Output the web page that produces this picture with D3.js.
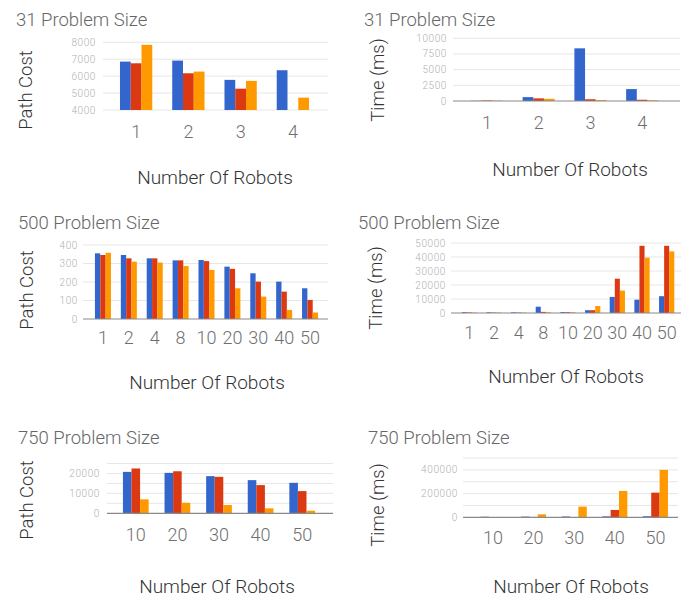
<!DOCTYPE html>
<html>
<head>
<meta charset="utf-8">
<script src="https://cdn.jsdelivr.net/npm/d3@7"></script>
<style>
  body { margin: 0; background: #fff; }
  text { font-family: Roboto, "Noto Sans", sans-serif; }
</style>
</head>
<body>
<div id="chart"></div>
<script>
// Number of robots on each x axis
const robots31 = ["1", "2", "3", "4"];
const robots500 = ["1", "2", "4", "8", "10", "20", "30", "40", "50"];
const robots750 = ["10", "20", "30", "40", "50"];

// Three series per chart (blue, red, orange)
const cost31 = [
  [6860, 6920, 5780, 6350],
  [6760, 6170, 5260, null],
  [7850, 6270, 5720, 4730]
];
const time31 = [
  [40, 620, 8400, 1900],
  [90, 420, 280, 200],
  [60, 350, 150, 120]
];
const cost500 = [
  [355, 346, 328, 317, 319, 283, 247, 202, 166],
  [346, 328, 328, 317, 313, 271, 202, 148, 103],
  [358, 310, 305, 286, 265, 166, 121, 49, 35]
];
const time500 = [
  [600, 500, 500, 4500, 700, 2000, 11500, 9500, 12000],
  [400, 300, 300, 800, 600, 2000, 24500, 48000, 48000],
  [300, 300, 300, 500, 500, 5000, 16000, 39500, 44000]
];
const cost750 = [
  [20800, 20300, 18650, 16650, 15300],
  [22500, 21100, 18300, 14150, 11150],
  [7000, 5300, 4150, 2500, 1300]
];
const time750 = [
  [5000, 6000, 7000, 8000, 9000],
  [2000, 3000, 2500, 62000, 208000],
  [3000, 25000, 90000, 222000, 400000]
];

// Y tick labels
const ticksCost31 = [4000, 5000, 6000, 7000, 8000];
const ticksTime31 = [0, 2500, 5000, 7500, 10000];
const ticksCost500 = [0, 100, 200, 300, 400];
const ticksTime500 = [0, 10000, 20000, 30000, 40000, 50000];
const ticksCost750 = [0, 10000, 20000];
const ticksTime750 = [0, 200000, 400000];

const colors = ["#3366cc", "#dc3912", "#ff9900"];

const svg = d3.select("#chart")
    .append("svg")
    .attr("width", 696)
    .attr("height", 599);

// layout of each small chart
const panels = [
  {title: "31 Problem Size", yTitle: "Path Cost", cats: robots31, data: cost31,
   domain: [4000, 8000], labels: ticksCost31, grid: ticksCost31, baseline: false,
   xr: [110, 319], gx: [103, 328], yr: [110, 42.3], tickX: 96,
   titleXY: [16, 26], yTitleXY: [26, 90], catY: 138, xTitleXY: [215, 184]},
  {title: "31 Problem Size", yTitle: "Time (ms)", cats: robots31, data: time31,
   domain: [0, 10000], labels: ticksTime31, grid: ticksTime31, baseline: true,
   xr: [461, 668], gx: [453, 680], yr: [101, 38.3], tickX: 447,
   titleXY: [364, 26], yTitleXY: [378, 80], catY: 129, xTitleXY: [570, 176]},
  {title: "500 Problem Size", yTitle: "Path Cost", cats: robots500, data: cost500,
   domain: [0, 400], labels: ticksCost500, grid: ticksCost500, baseline: true,
   xr: [90, 323], gx: [83, 328], yr: [319, 245], tickX: 78,
   titleXY: [18, 229], yTitleXY: [27, 290], catY: 344, xTitleXY: [207, 389]},
  {title: "500 Problem Size", yTitle: "Time (ms)", cats: robots500, data: time500,
   domain: [0, 50000], labels: ticksTime500, grid: ticksTime500, baseline: true,
   xr: [457, 679], gx: [451, 681], yr: [313, 243], tickX: 446,
   titleXY: [358, 229], yTitleXY: [376, 288], catY: 339, xTitleXY: [566, 383]},
  {title: "750 Problem Size", yTitle: "Path Cost", cats: robots750, data: cost750,
   domain: [0, 25000], labels: ticksCost750, grid: d3.range(0, 25001, 5000), baseline: true,
   xr: [115, 323], gx: [107, 333], yr: [513.3, 463.5], tickX: 100,
   titleXY: [18, 444], yTitleXY: [27, 500], catY: 541, xTitleXY: [217, 593]},
  {title: "750 Problem Size", yTitle: "Time (ms)", cats: robots750, data: time750,
   domain: [0, 500000], labels: ticksTime750, grid: d3.range(0, 500001, 100000), baseline: true,
   xr: [472.7, 675.7], gx: [463, 678], yr: [517.3, 458], tickX: 458,
   titleXY: [368, 444], yTitleXY: [378, 505], catY: 544, xTitleXY: [571, 593]}
];

panels.forEach(drawPanel);

function drawPanel(p) {
  const g = svg.append("g");

  const x = d3.scaleBand()
      .domain(p.cats)
      .range(p.xr)
      .paddingInner(0.382)
      .paddingOuter(0.191);

  const x1 = d3.scaleBand()
      .domain(d3.range(p.data.length))
      .range([0, x.bandwidth()]);

  const y = d3.scaleLinear()
      .domain(p.domain)
      .range(p.yr);

  // gridlines
  g.selectAll(".grid")
    .data(p.grid.filter(d => !(p.baseline && d === 0)))
    .enter().append("line")
      .attr("class", "grid")
      .attr("x1", p.gx[0])
      .attr("x2", p.gx[1])
      .attr("y1", d => y(d))
      .attr("y2", d => y(d))
      .attr("stroke", "#e6e6e6")
      .attr("stroke-width", 1);

  // y tick labels
  g.selectAll(".ytick")
    .data(p.labels)
    .enter().append("text")
      .attr("class", "ytick")
      .attr("x", p.tickX)
      .attr("y", d => y(d))
      .attr("dy", "0.35em")
      .attr("text-anchor", "end")
      .attr("font-size", 10)
      .attr("font-weight", 300)
      .attr("letter-spacing", 0.6)
      .attr("fill", "#b0b0b0")
      .text(d => d);

  // bars
  p.data.forEach((series, si) => {
    g.selectAll(".bar" + si)
      .data(series.map((v, i) => ({cat: p.cats[i], v: v})).filter(d => d.v !== null))
      .enter().append("rect")
        .attr("class", "bar" + si)
        .attr("x", d => x(d.cat) + x1(si))
        .attr("width", x1.bandwidth())
        .attr("y", d => y(d.v))
        .attr("height", d => y(p.domain[0]) - y(d.v))
        .attr("fill", colors[si]);
  });

  // baseline at zero
  if (p.baseline) {
    g.append("line")
      .attr("x1", p.gx[0])
      .attr("x2", p.gx[1])
      .attr("y1", y(0))
      .attr("y2", y(0))
      .attr("stroke", "#8a8a8a")
      .attr("stroke-width", 1.2);
  }

  // category labels
  g.selectAll(".xtick")
    .data(p.cats)
    .enter().append("text")
      .attr("class", "xtick")
      .attr("x", d => x(d) + x.bandwidth() / 2)
      .attr("y", p.catY)
      .attr("text-anchor", "middle")
      .attr("font-size", 18)
      .attr("font-weight", 300)
      .attr("fill", "#6f6f6f")
      .text(d => d);

  // chart title
  g.append("text")
    .attr("x", p.titleXY[0])
    .attr("y", p.titleXY[1])
    .attr("font-size", 18.5)
    .attr("font-weight", 300)
    .attr("fill", "#666")
    .text(p.title);

  // y axis title
  g.append("text")
    .attr("transform", `translate(${p.yTitleXY[0]},${p.yTitleXY[1]}) rotate(-90)`)
    .attr("text-anchor", "middle")
    .attr("dy", "0.35em")
    .attr("font-size", 18.5)
    .attr("font-weight", 300)
    .attr("fill", "#333")
    .text(p.yTitle);

  // x axis title
  g.append("text")
    .attr("x", p.xTitleXY[0])
    .attr("y", p.xTitleXY[1])
    .attr("text-anchor", "middle")
    .attr("font-size", 19)
    .attr("font-weight", 300)
    .attr("fill", "#333")
    .text("Number Of Robots");
}
</script>
</body>
</html>
